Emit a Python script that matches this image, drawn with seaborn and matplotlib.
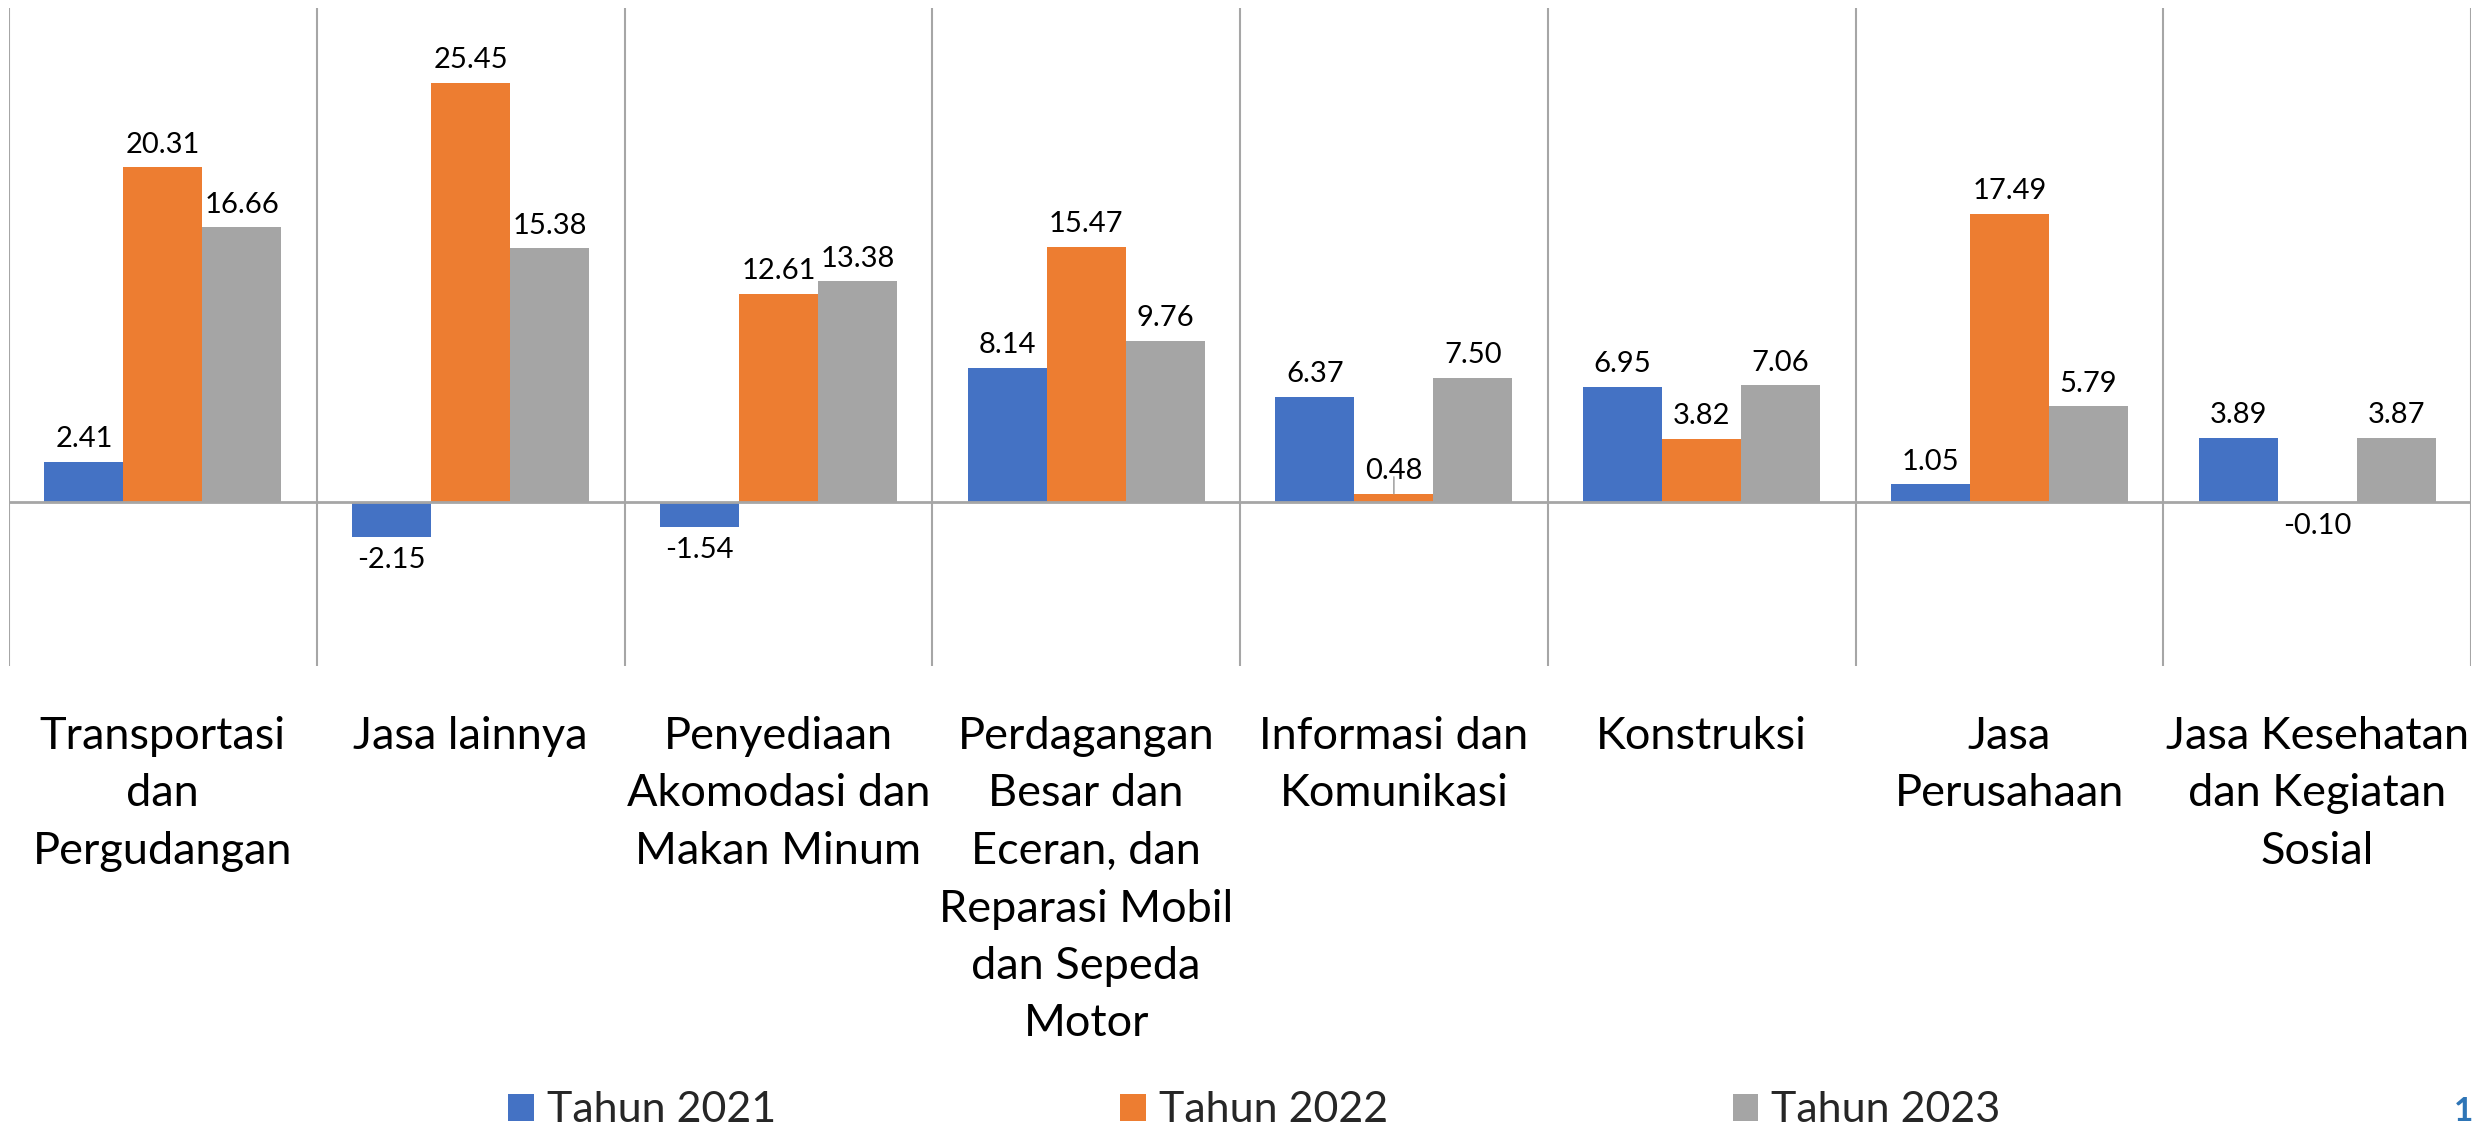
import numpy as np
import pandas as pd
import matplotlib
matplotlib.use("Agg")
import matplotlib.pyplot as plt
import seaborn as sns
from matplotlib.patches import Patch

categories = [
    "Transportasi\ndan\nPergudangan",
    "Jasa lainnya",
    "Penyediaan\nAkomodasi dan\nMakan Minum",
    "Perdagangan\nBesar dan\nEceran, dan\nReparasi Mobil\ndan Sepeda\nMotor",
    "Informasi dan\nKomunikasi",
    "Konstruksi",
    "Jasa\nPerusahaan",
    "Jasa Kesehatan\ndan Kegiatan\nSosial",
]
series_names = ["Tahun 2021", "Tahun 2022", "Tahun 2023"]
tahun_2021 = [2.41, -2.15, -1.54, 8.14, 6.37, 6.95, 1.05, 3.89]
tahun_2022 = [20.31, 25.45, 12.61, 15.47, 0.48, 3.82, 17.49, -0.10]
tahun_2023 = [16.66, 15.38, 13.38, 9.76, 7.50, 7.06, 5.79, 3.87]
colors = ["#4472C4", "#ED7D31", "#A5A5A5"]

rows = []
for name, vals in zip(series_names, [tahun_2021, tahun_2022, tahun_2023]):
    for c, v in zip(categories, vals):
        rows.append({"Kategori": c, "Tahun": name, "Nilai": v})
df = pd.DataFrame(rows)

sns.set_theme(style="white")
plt.rcParams["font.family"] = ["Lato", "DejaVu Sans"]

fig = plt.figure(figsize=(24.74, 11.32), dpi=100)
ax = fig.add_axes([9 / 2474, 1 - 666 / 1132, (2471 - 9) / 2474, (666 - 8) / 1132])

sns.barplot(data=df, x="Kategori", y="Nilai", hue="Tahun", order=categories,
            hue_order=series_names, palette=colors, width=0.77, errorbar=None,
            linewidth=0, saturation=1, ax=ax, legend=False)

ax.set_xlim(-0.5, len(categories) - 0.5)
ax.set_ylim(-10, 30)
for s in ax.spines.values():
    s.set_visible(False)
ax.set_yticks([])
ax.set_xlabel("")
ax.set_ylabel("")
ax.set_xticks(np.arange(-0.5, len(categories), 1.0), minor=True)
ax.grid(False)
ax.grid(True, which="minor", axis="x", color="#A6A6A6", linewidth=1.5)
ax.axhline(0, color="#A6A6A6", linewidth=2, zorder=1)
ax.tick_params(axis="x", which="both", length=0, pad=36)
ax.set_xticks(range(len(categories)))
ax.set_xticklabels(categories, fontsize=32.5, color="#000000", linespacing=1.5, va="top")

for cont in ax.containers:
    ax.bar_label(cont, fmt="{:.2f}", padding=7, fontsize=21, color="#000000")

# leader line for the tiny 0.48 bar
cont = ax.containers[1]
i = 4
bar = cont.patches[i]
xc = bar.get_x() + bar.get_width() / 2
ax.annotate("", xy=(xc, tahun_2022[i]), xytext=(0, 12), textcoords="offset points",
            xycoords="data", arrowprops=dict(arrowstyle="-", color="#A6A6A6", lw=1.2,
                                             shrinkA=0, shrinkB=0))

handles = [Patch(facecolor=c, edgecolor="none") for c in colors]
fig.legend(handles, series_names, loc="center", bbox_to_anchor=(0.507, 0.019),
           ncol=3, frameon=False, fontsize=31, handlelength=0.6, handleheight=0.6,
           handletextpad=0.3, columnspacing=8.0)

fig.text(0.9998, 0.018, "1", color="#2E75B6", fontsize=24, fontweight="bold",
         ha="right", va="center")

fig.savefig("out.png", dpi=100, facecolor="white")
